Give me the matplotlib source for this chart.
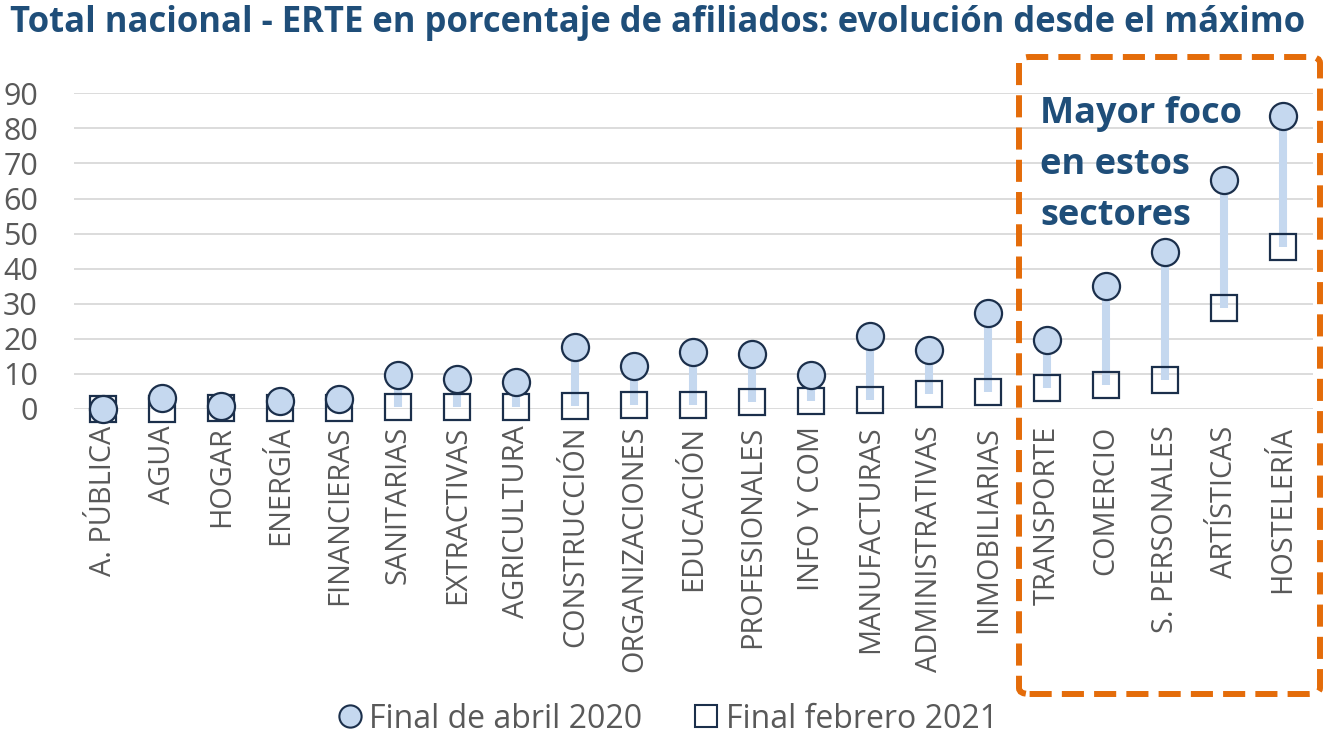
import matplotlib
matplotlib.use("Agg")
import matplotlib.pyplot as plt
from matplotlib.patches import FancyBboxPatch
from matplotlib.lines import Line2D

categories = ["A. PÚBLICA", "AGUA", "HOGAR", "ENERGÍA", "FINANCIERAS", "SANITARIAS",
              "EXTRACTIVAS", "AGRICULTURA", "CONSTRUCCIÓN", "ORGANIZACIONES", "EDUCACIÓN",
              "PROFESIONALES", "INFO Y COM", "MANUFACTURAS", "ADMINISTRATIVAS", "INMOBILIARIAS",
              "TRANSPORTE", "COMERCIO", "S. PERSONALES", "ARTÍSTICAS", "HOSTELERÍA"]
abril_2020 = [0.0, 3.2, 0.8, 2.3, 2.8, 9.6, 8.5, 7.8, 17.6, 12.3, 16.2, 15.6, 9.6, 20.7,
              16.9, 27.5, 19.7, 35.2, 44.7, 65.3, 83.6]
febrero_2021 = [0.0, 0.1, 0.3, 0.3, 0.3, 0.6, 0.6, 0.7, 0.9, 1.0, 1.1, 2.1, 2.3, 2.6,
                4.2, 4.9, 5.9, 6.7, 8.3, 28.8, 46.1]
yticks = [0, 10, 20, 30, 40, 50, 60, 70, 80, 90]
title = "Total nacional - ERTE en porcentaje de afiliados: evolución desde el máximo"
note = "Mayor foco\nen estos\nsectores"
legend_labels = ["Final de abril 2020", "Final febrero 2021"]

FONT = ["Open Sans", "DejaVu Sans"]
plt.rcParams['font.family'] = FONT

W, H = 1325, 739
fig = plt.figure(figsize=(W / 100, H / 100), dpi=100)
ax = fig.add_axes([74 / W, (H - 409) / H, (1312.5 - 74) / W, (409 - 93.3) / H])

navy = "#1b2f4b"
light = "#c5d8ef"
gray = "#595959"
x = list(range(len(categories)))

ax.vlines(x, febrero_2021, abril_2020, colors=light, lw=5.8, zorder=2, capstyle='butt')
ax.plot(x, febrero_2021, ls='none', marker='s', ms=19, mfc='none', mec=navy, mew=1.6,
        zorder=3, clip_on=False)
ax.plot(x, abril_2020, ls='none', marker='o', ms=19.5, mfc=light, mec=navy, mew=1.6,
        zorder=4, clip_on=False)

ax.set_xlim(-0.5, len(categories) - 0.5)
ax.set_ylim(0, 90)
ax.set_yticks(yticks)
ax.set_yticklabels([str(v) for v in yticks], fontsize=22, color=gray)
ax.set_xticks(x)
ax.set_xticklabels(categories, rotation=90, fontsize=20.8, color=gray, va='top', ha='center')
ax.tick_params(axis='both', length=0)
ax.tick_params(axis='x', pad=12)
ax.tick_params(axis='y', pad=26)
ax.grid(axis='y', color='#d9d9d9', lw=1.3)
ax.set_axisbelow(True)
for s in ax.spines.values():
    s.set_visible(False)

fig.text(10 / W, 1 - 32 / H, title, fontsize=24.9, fontweight='bold', color='#1f4e79',
         va='baseline', ha='left')

fig.text(1040 / W, 1 - 225 / H, note, fontsize=26, fontweight='bold', color='#1f4e79',
         va='baseline', ha='left', linespacing=1.55)

rect = FancyBboxPatch((1019 / W, 1 - 694 / H), (1320 - 1019) / W, (694 - 57) / H,
                      boxstyle="round,pad=0,rounding_size=0.008", transform=fig.transFigure,
                      fill=False, ec="#e46c0a", lw=4.3, ls=(0, (3.7, 1.7)), zorder=10)
fig.patches.append(rect)

handles = [Line2D([], [], ls='none', marker='o', ms=16, mfc=light, mec=navy, mew=1.5),
           Line2D([], [], ls='none', marker='s', ms=16, mfc='none', mec=navy, mew=1.5)]
leg = fig.legend(handles, legend_labels, loc='center', bbox_to_anchor=(666 / W, 1 - 719 / H),
                 ncol=2, frameon=False, fontsize=23, handletextpad=0.1, columnspacing=1.5,
                 handlelength=1.0, labelcolor=gray, borderpad=0)

fig.savefig("out.png", dpi=100)
